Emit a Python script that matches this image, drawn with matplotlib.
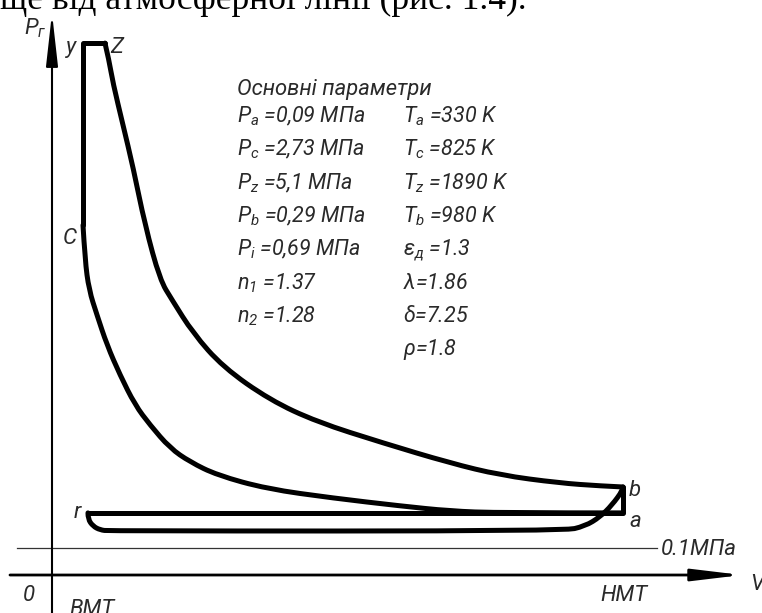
import matplotlib.pyplot as plt
from matplotlib.path import Path
from matplotlib.patches import PathPatch

FONT = 'Roboto'
plt.rcParams['mathtext.fontset'] = 'custom'
plt.rcParams['mathtext.it'] = FONT + ':italic'
plt.rcParams['mathtext.rm'] = FONT + ':italic'
plt.rcParams['mathtext.default'] = 'it'

# Indicator diagram, schematic units: V (0 = TDC axis, 100 = BDC), P (0.1 = atmospheric line)
# combustion: c -> y -> z
comb_v = [5.43, 5.43, 9.28]
comb_p = [1.296, 1.970, 1.970]

# expansion z -> b
exp_v = [9.28, 9.98, 10.68, 12.43, 14.19, 16.29, 18.91, 21.02, 24.69, 29.95,
         38.18, 46.41, 57.97, 69.70, 78.46, 88.79, 95.97, 100.0]
exp_p = [1.970, 1.907, 1.822, 1.667, 1.511, 1.296, 1.093, 1.019, 0.896, 0.770,
         0.648, 0.567, 0.489, 0.415, 0.370, 0.341, 0.330, 0.326]

# compression c -> a
comp_v = [5.43, 5.78, 6.48, 7.88, 9.63, 11.91, 14.54, 17.16, 20.67, 24.17,
          28.90, 37.65, 49.21, 60.95, 69.70, 78.46, 100.0]
comp_p = [1.296, 1.167, 1.056, 0.963, 0.852, 0.741, 0.630, 0.556, 0.470, 0.419,
          0.370, 0.319, 0.285, 0.256, 0.237, 0.230, 0.230]

# exhaust b -> r
exh_v = [100.0, 100.0, 98.07, 95.97, 93.35, 89.67, 9.98, 8.41, 7.18, 6.30, 6.30]
exh_p = [0.326, 0.315, 0.259, 0.215, 0.181, 0.163, 0.163, 0.167, 0.181, 0.207, 0.230]

# intake r -> a, then a -> b
intk_v = [6.30, 100.0, 100.0]
intk_p = [0.230, 0.230, 0.326]

p_atm = 0.1

params_left = [r'$P_a$ =0,09 МПа', r'$P_c$ =2,73 МПа', r'$P_z$ =5,1 МПа',
               r'$P_b$ =0,29 МПа', r'$P_i$ =0,69 МПа', r'$n_1$ =1.37', r'$n_2$ =1.28']
params_right = [r'$T_a$ =330 K', r'$T_c$ =825 K', r'$T_z$ =1890 K', r'$T_b$ =980 K',
                r'$\varepsilon_д$ =1.3', r'$\lambda$=1.86', r'$\delta$=7.25', r'$\rho$=1.8']


def smooth_curve(ax, xs, ys, **kw):
    # quadratic bezier through the midpoints of the read points
    pts = list(zip(xs, ys))
    verts = [pts[0]]
    codes = [Path.MOVETO]
    for i in range(1, len(pts) - 1):
        mid = ((pts[i][0] + pts[i + 1][0]) / 2, (pts[i][1] + pts[i + 1][1]) / 2)
        if i == len(pts) - 2:
            mid = pts[-1]
        verts += [pts[i], mid]
        codes += [Path.CURVE3, Path.CURVE3]
    ax.add_patch(PathPatch(Path(verts, codes), fill=False, **kw))


def py(pix):
    # pixel row of the 613 px high picture -> P units
    return (575 - pix) / 270


fig = plt.figure(figsize=(7.62, 6.13), dpi=100)
ax = fig.add_axes([0, 0, 1, 1])
ax.set_xlim(-9.107, 124.343)
ax.set_ylim(-0.1407, 2.1296)
ax.axis('off')

fnt = dict(family=[FONT, 'DejaVu Sans'], style='italic', weight='normal',
           color='#2a2a2a')

# axes of the diagram
ax.annotate('', xy=(0, 2.081), xytext=(0, -0.2),
            arrowprops=dict(arrowstyle='-|>,head_length=3.2,head_width=0.36',
                            lw=1.5, color='black', shrinkA=0, shrinkB=0),
            annotation_clip=False)
ax.annotate('', xy=(120.84, 0), xytext=(-7.36, 0),
            arrowprops=dict(arrowstyle='-|>,head_length=3.0,head_width=0.36',
                            lw=2.0, color='black', shrinkA=0, shrinkB=0))
ax.plot([-6.13, 105.95], [p_atm, p_atm], color='#333333', lw=0.9)

lw = 3.6
kw = dict(color='black', lw=lw, joinstyle='round', capstyle='round')
ax.plot(comb_v, comb_p, color='black', lw=lw, solid_joinstyle='round',
        solid_capstyle='round')
ax.plot(intk_v, intk_p, color='black', lw=lw, solid_joinstyle='round',
        solid_capstyle='round')
smooth_curve(ax, exp_v, exp_p, **kw)
smooth_curve(ax, comp_v, comp_p, **kw)
smooth_curve(ax, exh_v, exh_p, **kw)

# point labels
ax.text(-4.9, py(34), r'$P_г$', fontsize=16, va='baseline', ha='left', **fnt)
ax.text(3.33, py(53), 'y', fontsize=16, va='baseline', ha='center', **fnt)
ax.text(11.4, py(53), 'Z', fontsize=16, va='baseline', ha='center', **fnt)
ax.text(3.15, py(244), 'C', fontsize=16, va='baseline', ha='center', **fnt)
ax.text(4.38, py(518), 'r', fontsize=16, va='baseline', ha='center', **fnt)
ax.text(102.1, py(496), 'b', fontsize=16, va='baseline', ha='center', **fnt)
ax.text(102.1, py(527), 'a', fontsize=16, va='baseline', ha='center', **fnt)
ax.text(106.65, py(555), '0.1МПа', fontsize=16, va='baseline', ha='left', **fnt)
ax.text(100.2, py(601), 'НМТ', fontsize=16, va='baseline', ha='center', **fnt)
ax.text(-4.03, py(601), '0', fontsize=16, va='baseline', ha='center', **fnt)
ax.text(7.0, py(615), 'ВМТ', fontsize=16, va='baseline', ha='center', **fnt)
ax.text(122.2, py(590), 'V', fontsize=16, va='baseline', ha='left', **fnt)

# parameter block
ax.text(32.4, py(95), 'Основні параметри', fontsize=15.8, va='baseline',
        ha='left', **fnt)
row_base = [122, 155, 189, 222, 255, 289, 322, 355]
for s, b in zip(params_left, row_base):
    ax.text(32.4, py(b), s, fontsize=15.5, va='baseline', ha='left', **fnt)
for s, b in zip(params_right, row_base):
    ax.text(61.5, py(b), s, fontsize=15.5, va='baseline', ha='left', **fnt)

# clipped line of page text above the figure
ax.text(-9.107, py(9), 'ще від атмосферної лінії (рис. 1.4).', fontsize=25.5,
        family='Liberation Serif', va='baseline', ha='left', color='black')

plt.savefig('out.png', dpi=100, facecolor='white')
